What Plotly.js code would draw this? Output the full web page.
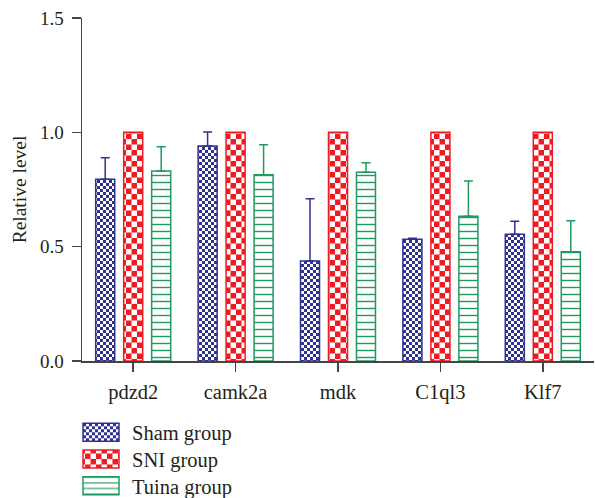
<!DOCTYPE html>
<html>
<head>
<meta charset="utf-8">
<script src="https://cdn.plot.ly/plotly-3.0.1.min.js"></script>
<style>
html,body{margin:0;padding:0;background:#fff;}
#chart{width:595px;height:498px;}
</style>
</head>
<body>
<div id="chart"></div>
<script>
var genes = ["pdzd2", "camk2a", "mdk", "C1ql3", "Klf7"];
var groupNames = ["Sham group", "SNI group", "Tuina group"];
var shamValues = [0.795, 0.940, 0.437, 0.532, 0.554];
var shamErrors = [0.094, 0.061, 0.273, 0.005, 0.057];
var sniValues = [1.0, 1.0, 1.0, 1.0, 1.0];
var tuinaValues = [0.831, 0.815, 0.825, 0.633, 0.478];
var tuinaErrors = [0.106, 0.131, 0.042, 0.154, 0.135];
var yTickVals = [0, 0.5, 1.0, 1.5];
var yTickText = ["0.0", "0.5", "1.0", "1.5"];

var BLUE = "#2e3192", RED = "#ed1c24", GREEN = "#1f9a5e";
var FONT = "Liberation Serif, Times New Roman, serif";
var zeros = genes.map(function(){ return 0; });

var traces = [
  {
    type: "bar", name: groupNames[0], x: genes, y: shamValues,
    marker: {color: BLUE, line: {color: BLUE, width: 1.5}},
    error_y: {type: "data", array: shamErrors, arrayminus: zeros, symmetric: false,
              color: BLUE, thickness: 1.5, width: 4.5}
  },
  {
    type: "bar", name: groupNames[1], x: genes, y: sniValues,
    marker: {color: RED, line: {color: RED, width: 1.5}}
  },
  {
    type: "bar", name: groupNames[2], x: genes, y: tuinaValues,
    marker: {color: "#ffffff", line: {color: GREEN, width: 1.5},
             pattern: {shape: "-", fgcolor: GREEN, bgcolor: "#ffffff", size: 7, solidity: 0.2}},
    error_y: {type: "data", array: tuinaErrors, arrayminus: zeros, symmetric: false,
              color: GREEN, thickness: 1.5, width: 4.5}
  }
];

var axisCommon = {
  showline: true, linecolor: "#444", linewidth: 1.5,
  ticks: "outside", ticklen: 9, tickwidth: 1.5, tickcolor: "#444",
  showgrid: false, zeroline: false
};

var layout = {
  width: 595, height: 498,
  margin: {l: 82, r: 1, t: 18, b: 137, autoexpand: false},
  paper_bgcolor: "#ffffff", plot_bgcolor: "#ffffff",
  barmode: "group", bargap: 0.18, bargroupgap: 0.32,
  font: {family: FONT, color: "#231f20"},
  showlegend: true,
  legend: {x: 0, xanchor: "left", y: -0.15, yanchor: "top", orientation: "v",
           font: {family: FONT, size: 20.5, color: "#231f20"}, bgcolor: "rgba(0,0,0,0)",
           itemwidth: 40, tracegroupgap: 0},
  xaxis: Object.assign({}, axisCommon, {
    tickfont: {family: FONT, size: 20.5, color: "#231f20"}
  }),
  yaxis: Object.assign({}, axisCommon, {
    range: [0, 1.5], tickvals: yTickVals, ticktext: yTickText,
    tickfont: {family: FONT, size: 19, color: "#231f20"},
    title: {text: "Relative level", font: {family: FONT, size: 19.5, color: "#231f20"}, standoff: 12}
  })
};

function addPattern(defs, id, size, fg, bg) {
  var ns = "http://www.w3.org/2000/svg";
  var p = document.createElementNS(ns, "pattern");
  p.setAttribute("id", id);
  p.setAttribute("patternUnits", "userSpaceOnUse");
  p.setAttribute("width", size * 2);
  p.setAttribute("height", size * 2);
  var r0 = document.createElementNS(ns, "rect");
  r0.setAttribute("width", size * 2); r0.setAttribute("height", size * 2);
  r0.setAttribute("fill", bg);
  p.appendChild(r0);
  [[0, 0], [size, size]].forEach(function(c){
    var r = document.createElementNS(ns, "rect");
    r.setAttribute("x", c[0]); r.setAttribute("y", c[1]);
    r.setAttribute("width", size); r.setAttribute("height", size);
    r.setAttribute("fill", fg);
    p.appendChild(r);
  });
  defs.appendChild(p);
}

Plotly.newPlot("chart", traces, layout, {staticPlot: true}).then(function(gd){
  var svg = gd.querySelector(".main-svg");
  var defs = svg.querySelector("defs");
  addPattern(defs, "chkBlue", 3, "#ffffff", BLUE);
  addPattern(defs, "chkRed", 5.5, "#ffffff", RED);
  var fills = ["url(#chkBlue)", "url(#chkRed)", null];
  var barTraces = gd.querySelectorAll(".barlayer .trace");
  barTraces.forEach(function(t, i){
    if (!fills[i]) return;
    t.querySelectorAll(".point path").forEach(function(p){ p.style.fill = fills[i]; });
  });
  var legTraces = gd.querySelectorAll(".legend .traces");
  var baseY = null;
  legTraces.forEach(function(t, i){
    var tr = t.getAttribute("transform") || "";
    var m = tr.match(/translate\(\s*([-\d.e]+)[ ,]+([-\d.e]+)\s*\)/);
    if (m) {
      var tx = parseFloat(m[1]), ty = parseFloat(m[2]);
      if (baseY === null) baseY = ty;
      t.setAttribute("transform", "translate(" + tx + "," + (baseY + i * 26.7) + ")");
    }
    var p = t.querySelector(".legendpoints path");
    if (!p) return;
    p.setAttribute("d", "M-24,-9H12V9H-24Z");
    if (fills[i]) p.style.fill = fills[i];
  });
  // nudge tick labels slightly away from the axes
  gd.querySelectorAll(".ytick text").forEach(function(t){
    t.setAttribute("x", parseFloat(t.getAttribute("x") || 0) - 4);
  });
  gd.querySelectorAll(".xtick text").forEach(function(t){
    t.setAttribute("y", parseFloat(t.getAttribute("y") || 0) + 3);
  });
});
</script>
</body>
</html>
